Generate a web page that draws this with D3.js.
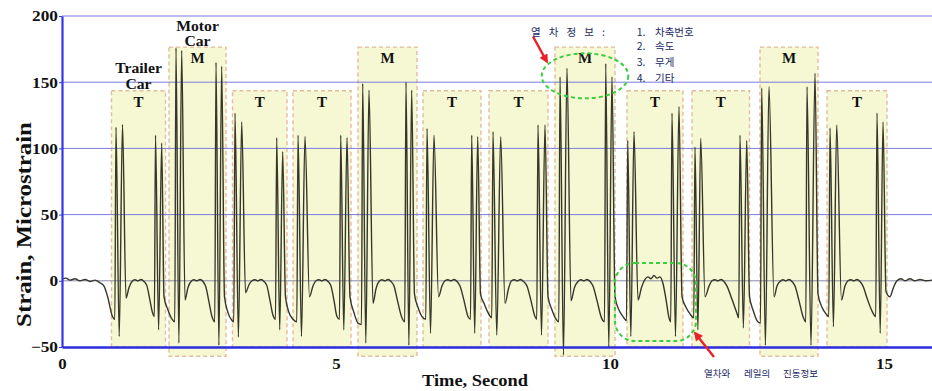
<!DOCTYPE html>
<html><head><meta charset="utf-8">
<script src="https://cdn.jsdelivr.net/npm/d3@7"></script>
<style>body{margin:0;background:#fff}svg{display:block}</style>
</head><body>
<svg id="c" width="932" height="391"></svg>
<script>
// ---------- data ----------
const xTicks = [0, 5, 10, 15];
const yTicks = [-50, 0, 50, 100, 150, 200];
const gridValues = [0, 50, 100, 150, 200];
const xMax = 15.876;
const carTypes  = ["T","M","T","T","M","T","T","M","T","T","M","T"];
const carStart  = [0.903,1.953,3.111,4.215,5.401,6.588,7.792,8.996,10.310,11.496,12.737,13.960];
const carEnd    = [1.889,2.993,4.106,5.274,6.478,7.646,8.869,10.091,11.332,12.546,13.796,15.055];
const carTop    = [143.5,176.5,143.5,143.5,176.5,143.5,143.5,176.5,143.5,143.5,176.5,143.5];
const carBottom = [-50,-57,-50,-50,-57,-50,-50,-57,-50,-50,-57,-50];
const carNames  = [["Trailer","Car"], ["Motor","Car"]];

// strain signal (time in s, strain in microstrain)
const sigTime = [
 0,0.073,0.146,0.237,0.328,0.420,0.511,0.602,0.693,0.766,0.839,0.912,0.964,
 0.985,1.044,1.104,1.168,1.223,1.277,1.332,1.387,1.442,1.496,1.551,1.606,1.651,1.686,1.706,1.763,1.819,1.861,1.934,2.007,2.058,
 2.080,2.133,2.184,2.245,2.299,2.354,2.409,2.464,2.518,2.573,2.628,2.682,2.737,2.788,2.810,2.863,2.914,2.965,3.029,3.102,3.135,
 3.157,3.219,3.279,3.349,3.412,3.467,3.522,3.577,3.631,3.686,3.741,3.796,3.850,3.896,3.918,3.973,4.027,4.078,4.142,4.215,4.285,
 4.307,4.370,4.434,4.516,4.580,4.635,4.690,4.745,4.799,4.854,4.909,4.964,5.018,5.064,5.086,5.142,5.201,5.255,5.328,5.401,5.465,
 5.487,5.544,5.602,5.675,5.730,5.785,5.839,5.894,5.949,6.004,6.058,6.122,6.195,6.255,6.277,6.330,6.381,6.432,6.496,6.569,6.639,
 6.661,6.725,6.788,6.871,6.934,6.989,7.044,7.099,7.153,7.208,7.263,7.336,7.409,7.455,7.476,7.531,7.586,7.637,7.701,7.774,7.843,
 7.865,7.934,8.005,8.084,8.148,8.203,8.257,8.312,8.367,8.422,8.485,8.558,8.631,8.664,8.686,8.750,8.814,8.869,8.942,9.015,9.066,
 9.088,9.151,9.215,9.288,9.352,9.416,9.471,9.526,9.580,9.635,9.690,9.763,9.845,9.900,9.922,9.978,10.036,10.091,10.164,10.237,10.301,
 10.323,10.380,10.438,10.511,10.575,10.639,10.693,10.748,10.803,10.858,10.912,10.967,11.022,11.077,11.109,11.131,11.195,11.259,11.314,11.387,11.460,11.529,
 11.551,11.604,11.655,11.734,11.807,11.861,11.916,11.971,12.026,12.080,12.135,12.226,12.312,12.350,12.372,12.434,12.495,12.546,12.610,12.682,12.746,
 12.768,12.836,12.901,12.993,13.047,13.102,13.157,13.212,13.266,13.321,13.376,13.449,13.522,13.573,13.595,13.668,13.741,13.796,13.869,13.942,13.993,
 14.015,14.077,14.137,14.224,14.288,14.343,14.398,14.453,14.507,14.562,14.617,14.690,14.772,14.850,14.872,14.931,14.982,15.036,15.109,15.173,15.237,15.310,15.383,15.474,15.566,15.657,15.766,15.876
];
const sigStrain = [
 1.5,2,0.5,1.5,0,1,-0.5,0.5,-1.5,-4,-13,-26,-29,
 116,-42,118,-13,-5,-0.5,0.8,0,1,-0.5,-4,-15,-24,-27,110,-37,104,-12,-22,-29,-31,
 176,-47,174,-14.5,-5,-0.5,0.8,0,1,-0.5,-5,-16,-27,-31,165,-48.6,162,-12,-24,-30,-31,
 126.6,-42.5,120,-9,-3,0,0.8,0,1,-0.5,-4,-15,-26,-29,108,-37,97.5,-12,-24,-29,-31,
 110,-42,109,-12,-4,0,0.8,0,1,-0.5,-4,-15,-27,-29,110,-37,108,-12,-24,-32,-33,
 149,-47,144,-17,-6,-0.5,0.8,0,1,-0.5,-4,-15,-27,-31,150,-48.6,144,-10,-20,-27,-29,
 115,-39.6,110,-12,-4,0,0.8,0,1,-0.5,-4,-15,-27,-29,110,-39.6,108.8,-10,-17,-24,-28,
 112.6,-41,108.8,-17,-6,0,0.8,0,1,-0.5,-4,-15,-27,-29,117.7,-41,117.7,-12,-22,-29,-31,
 154,-56,160.5,-15,-5,-0.5,0.8,0,1,-0.5,-4,-15,-28,-31,164,-50.5,154,-12,-22,-27,-30,
 106,-42,112.6,-14.5,-5,1,3,1.5,4,2,3,-2,-14,-28,-31,126.6,-42,131.5,-12,-20,-25,-28,
 101,-37,107.6,-12,-4,0,0.8,0,1,-0.5,-4,-14,-24,-28,110,-35.6,106,-12,-22,-30,-32,
 145.6,-48.6,146.6,-12,-4,-0.5,0.8,0,1,-0.5,-4,-15,-27,-31,146.6,-48.6,156.7,-10,-20,-25,-27,
 115.4,-34.6,117.7,-14.5,-4,0,0.8,0,1,-0.5,-4,-13,-22,-27,126.7,-39.6,120,-8,-12,-5,0,1.5,0,1.5,0,1,0,0.5
];

// annotations (data units)
const infoTitle = "열 차 정 보 :";
const infoItems = ["1.","2.","3.","4."];
const infoLabels = ["차축번호","속도","무게","기타"];
const infoStrain = [184.9, 174.3, 162.6, 150.2];
const vibWords = ["열차와","레일의","진동정보"];
const vibTime = [11.715, 12.445, 13.157];

// ---------- chart ----------
const svg = d3.select("#c");
const x = d3.scaleLinear().domain([0, xMax]).range([62, 932]);
const y = d3.scaleLinear().domain([-50, 200]).range([347, 16]);
const serif = "'Liberation Serif','Times New Roman',serif";
const kfont = "'Noto Sans CJK KR',sans-serif";
function stretch(sel, k){ sel.each(function(){ const w=this.getComputedTextLength(); this.setAttribute("textLength", w*k); this.setAttribute("lengthAdjust","spacingAndGlyphs"); }); }

const defs = svg.append("defs");
defs.append("marker").attr("id","ah").attr("viewBox","0 0 10 10").attr("refX",8).attr("refY",5)
  .attr("markerWidth",10).attr("markerHeight",9).attr("markerUnits","userSpaceOnUse").attr("orient","auto")
  .append("path").attr("d","M0,0L10,5L0,10z").attr("fill","#e8202a");

// car boxes
const idx = d3.range(carTypes.length);
svg.append("g").selectAll("rect").data(idx).join("rect")
  .attr("x", i => x(carStart[i])).attr("width", i => x(carEnd[i]) - x(carStart[i]))
  .attr("y", i => y(carTop[i])).attr("height", i => y(carBottom[i]) - y(carTop[i]))
  .attr("fill", "#f5f8d2").attr("stroke", "#e2bc9e").attr("stroke-width", 1.4).attr("stroke-dasharray", "4 3");

// gridlines
svg.append("g").selectAll("line").data(gridValues).join("line")
  .attr("x1", x(0)).attr("x2", x(xMax)).attr("y1", d => y(d)).attr("y2", d => y(d))
  .attr("stroke", d => d === 0 ? "#8a8aa8" : "#7a7ae0").attr("stroke-width", 1);

// signal
const pts = sigTime.map((t, i) => [t, sigStrain[i]]);
svg.append("path").datum(pts)
  .attr("d", d3.line().x(d => x(d[0])).y(d => y(d[1])).curve(d3.curveMonotoneX))
  .attr("fill", "none").attr("stroke", "#36362a").attr("stroke-width", 1.4).attr("stroke-linejoin","round");

// car labels
const lab = svg.append("g").attr("font-family", serif).attr("font-weight", "bold").attr("fill", "#111").attr("text-anchor", "middle");
lab.selectAll("text.car").data(idx).join("text").attr("class","car")
  .attr("x", i => x((carStart[i] + carEnd[i]) / 2)).attr("y", i => y(carTop[i]) + 16)
  .attr("font-size", 15).text(i => carTypes[i]);
const nameText = lab.selectAll("text.ex").data(carNames).join("text").attr("class","ex")
  .attr("font-size", 14)
  .attr("transform", (d, i) => `translate(${x((carStart[i] + carEnd[i]) / 2)},${y(carTop[i]) - 17.5 + i})`);
nameText.selectAll("tspan").data(d => d).join("tspan")
  .attr("x", 0).attr("y", (d, j) => j * 15.5).text(d => d).call(stretch, 1.12);

// axes
const ya = svg.append("g").attr("transform", `translate(${x(0)},0)`)
  .call(d3.axisLeft(y).tickValues(yTicks).tickSize(3).tickSizeOuter(0).tickPadding(1));
ya.select(".domain").attr("stroke", "#3434ee").attr("stroke-width", 2.2);
ya.selectAll(".tick line").attr("stroke", "#3434ee");
ya.selectAll("text").attr("font-family", serif).attr("font-weight", "bold").attr("font-size", 15).attr("fill", "#111").call(stretch, 1.15);

const xa = svg.append("g").attr("transform", `translate(0,${y(-50)})`)
  .call(d3.axisBottom(x).tickValues(xTicks).tickSize(0).tickSizeOuter(0).tickPadding(11));
xa.select(".domain").attr("stroke", "#2c2cdc").attr("stroke-width", 2.6);
xa.selectAll("text").attr("font-family", serif).attr("font-weight", "bold").attr("font-size", 15).attr("fill", "#111").call(stretch, 1.12);

svg.append("text").attr("x", 475).attr("y", 386).attr("text-anchor", "middle")
  .attr("font-family", serif).attr("font-weight", "bold").attr("font-size", 16).attr("fill", "#111")
  .text("Time, Second").call(stretch, 1.15);
svg.append("text").attr("transform", "translate(31,224.5) rotate(-90)").attr("text-anchor", "middle")
  .attr("font-family", serif).attr("font-weight", "bold").attr("font-size", 20).attr("fill", "#111")
  .text("Strain, Microstrain").call(stretch, 1.24);

// annotations
svg.append("ellipse").attr("cx", x(9.544)).attr("cy", y(154.8))
  .attr("rx", x(9.544 + 0.79) - x(9.544)).attr("ry", y(154.8 - 17) - y(154.8))
  .attr("fill", "none").attr("stroke", "#3dcc3d").attr("stroke-width", 2).attr("stroke-dasharray", "4 3");
svg.append("rect").attr("x", x(10.091)).attr("y", y(13.4))
  .attr("width", x(11.569) - x(10.091)).attr("height", y(-45.5) - y(13.4)).attr("rx", 20)
  .attr("fill", "none").attr("stroke", "#3dcc3d").attr("stroke-width", 2).attr("stroke-dasharray", "4 3");

const arrows = [[8.595, 184.5, 8.850, 165.3], [11.898, -57.6, 11.551, -39.4]];
svg.append("g").selectAll("line").data(arrows).join("line")
  .attr("x1", d => x(d[0])).attr("y1", d => y(d[1])).attr("x2", d => x(d[2])).attr("y2", d => y(d[3]))
  .attr("stroke", "#e8202a").attr("stroke-width", 2.4).attr("marker-end", "url(#ah)");

const kg = svg.append("g").attr("font-family", kfont).attr("fill", "#1b2a66").attr("font-size", 10.5);
kg.append("text").attr("x", x(8.558)).attr("y", y(184.9)).attr("textLength", 74).attr("lengthAdjust","spacing").text(infoTitle);
kg.selectAll("text.n").data(infoItems).join("text").attr("class","n")
  .attr("x", x(10.487)).attr("y", (d, i) => y(infoStrain[i])).text(d => d);
kg.selectAll("text.l").data(infoLabels).join("text").attr("class","l")
  .attr("x", x(10.821)).attr("y", (d, i) => y(infoStrain[i])).text(d => d);
kg.selectAll("text.v").data(vibWords).join("text").attr("class","v")
  .attr("x", (d, i) => x(vibTime[i])).attr("y", y(-72.7)).attr("font-size", 9.5).text(d => d);
</script>
</body></html>
